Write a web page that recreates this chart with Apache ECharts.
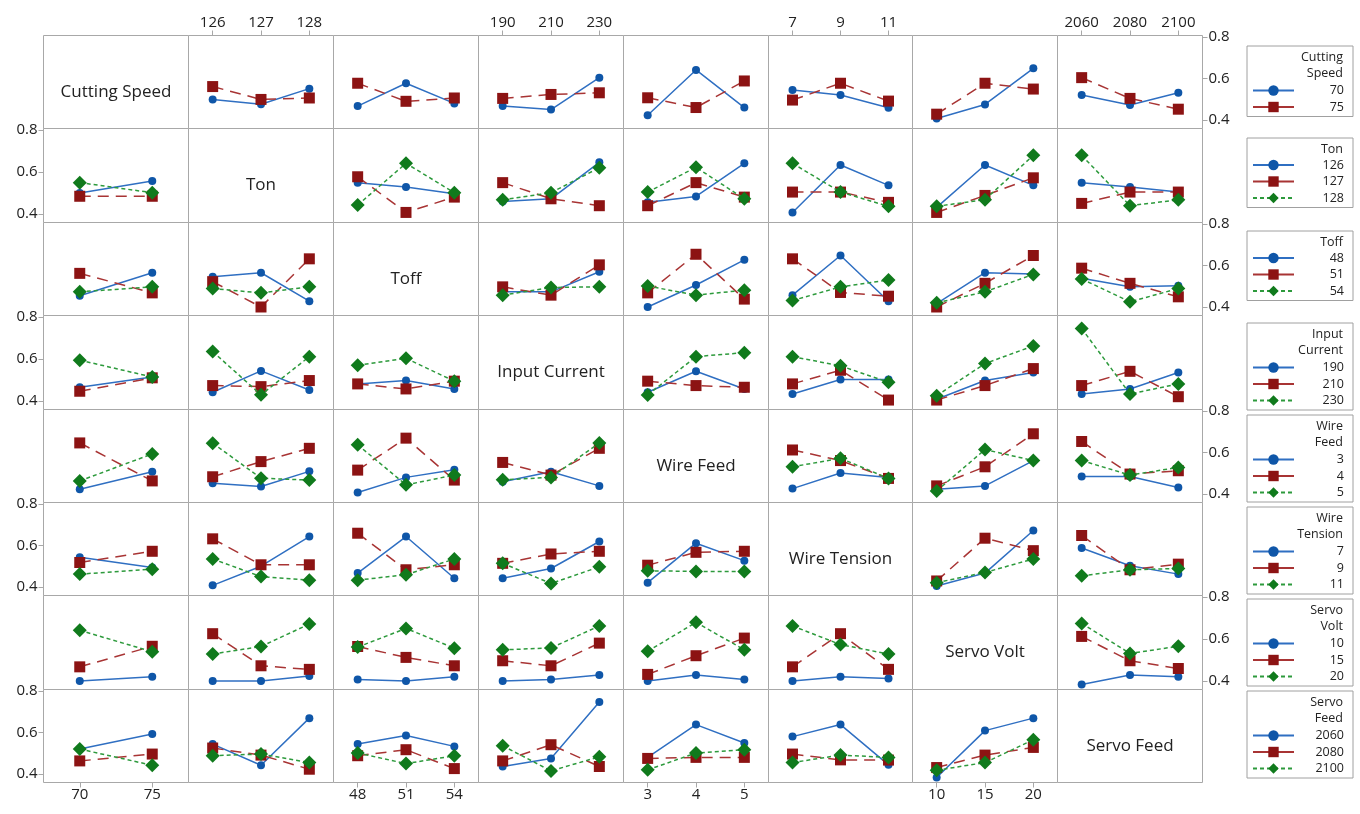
<!DOCTYPE html>
<html>
<head>
<meta charset="utf-8">
<script src="https://cdn.jsdelivr.net/npm/echarts@6/dist/echarts.min.js"></script>
<style>
  html, body { margin: 0; background: #fff; }
  #chart { width: 1360px; height: 814px; }
</style>
</head>
<body>
<div id="chart"></div>
<script>
  // factor names and their levels
  const factors = ['Cutting Speed', 'Ton', 'Toff', 'Input Current', 'Wire Feed', 'Wire Tension', 'Servo Volt', 'Servo Feed']
  const legendTitles = ['Cutting\nSpeed', 'Ton', 'Toff', 'Input\nCurrent', 'Wire\nFeed', 'Wire\nTension', 'Servo\nVolt', 'Servo\nFeed']
  const levels = [
    [70, 75],
    [126, 127, 128],
    [48, 51, 54],
    [190, 210, 230],
    [3, 4, 5],
    [7, 9, 11],
    [10, 15, 20],
    [2060, 2080, 2100]
  ]
  const yTicks = [0.4, 0.6, 0.8]

  // means: one entry per column factor, one line per level of the row factor
  const cuttingSpeedMeans = [
    null,
    [[0.499, 0.476, 0.551], [0.561, 0.499, 0.506]],
    [[0.467, 0.577, 0.480], [0.577, 0.490, 0.506]],
    [[0.467, 0.450, 0.604], [0.504, 0.523, 0.531]],
    [[0.423, 0.641, 0.460], [0.507, 0.460, 0.588]],
    [[0.544, 0.520, 0.459], [0.496, 0.577, 0.491]],
    [[0.407, 0.475, 0.649], [0.428, 0.577, 0.549]],
    [[0.520, 0.472, 0.531], [0.604, 0.504, 0.452]]
  ]
  const tonMeans = [
    [[0.500, 0.557], [0.484, 0.484], [0.549, 0.501]],
    null,
    [[0.548, 0.528, 0.496], [0.577, 0.407, 0.480], [0.442, 0.641, 0.501]],
    [[0.459, 0.472, 0.646], [0.549, 0.472, 0.439], [0.467, 0.501, 0.620]],
    [[0.455, 0.483, 0.641], [0.439, 0.549, 0.480], [0.504, 0.622, 0.472]],
    [[0.407, 0.633, 0.536], [0.504, 0.504, 0.455], [0.641, 0.504, 0.436]],
    [[0.431, 0.633, 0.536], [0.407, 0.488, 0.572], [0.436, 0.468, 0.679]],
    [[0.549, 0.528, 0.504], [0.450, 0.504, 0.504], [0.679, 0.439, 0.467]]
  ]
  const toffMeans = [
    [[0.454, 0.565], [0.562, 0.468], [0.473, 0.497]],
    [[0.546, 0.565, 0.428], [0.522, 0.400, 0.632], [0.489, 0.468, 0.497]],
    null,
    [[0.473, 0.473, 0.570], [0.497, 0.457, 0.603], [0.457, 0.494, 0.497]],
    [[0.400, 0.506, 0.627], [0.468, 0.654, 0.438], [0.501, 0.457, 0.481]],
    [[0.457, 0.648, 0.428], [0.632, 0.470, 0.452], [0.431, 0.497, 0.530]],
    [[0.416, 0.565, 0.559], [0.400, 0.514, 0.648], [0.420, 0.473, 0.557]],
    [[0.538, 0.497, 0.502], [0.587, 0.514, 0.449], [0.535, 0.425, 0.489]]
  ]
  const inputCurrentMeans = [
    [[0.465, 0.514], [0.446, 0.510], [0.594, 0.514]],
    [[0.441, 0.543, 0.452], [0.473, 0.468, 0.497], [0.635, 0.429, 0.611]],
    [[0.481, 0.497, 0.457], [0.481, 0.457, 0.494], [0.570, 0.603, 0.494]],
    null,
    [[0.441, 0.541, 0.457], [0.494, 0.473, 0.465], [0.428, 0.611, 0.630]],
    [[0.433, 0.502, 0.502], [0.481, 0.546, 0.404], [0.611, 0.567, 0.489]],
    [[0.408, 0.497, 0.535], [0.404, 0.473, 0.554], [0.425, 0.578, 0.662]],
    [[0.433, 0.457, 0.535], [0.473, 0.541, 0.420], [0.745, 0.433, 0.481]]
  ]
  const wireFeedMeans = [
    [[0.423, 0.507], [0.646, 0.463], [0.463, 0.593]],
    [[0.452, 0.436, 0.509], [0.483, 0.556, 0.620], [0.645, 0.476, 0.467]],
    [[0.407, 0.480, 0.517], [0.515, 0.669, 0.467], [0.637, 0.444, 0.491]],
    [[0.459, 0.507, 0.439], [0.552, 0.491, 0.620], [0.468, 0.480, 0.646]],
    null,
    [[0.426, 0.501, 0.480], [0.612, 0.561, 0.475], [0.531, 0.572, 0.475]],
    [[0.423, 0.439, 0.561], [0.439, 0.531, 0.690], [0.415, 0.614, 0.561]],
    [[0.484, 0.484, 0.431], [0.653, 0.496, 0.512], [0.561, 0.491, 0.528]]
  ]
  const wireTensionMeans = [
    [[0.543, 0.494], [0.518, 0.572], [0.462, 0.486]],
    [[0.408, 0.500, 0.643], [0.632, 0.507, 0.507], [0.535, 0.450, 0.433]],
    [[0.467, 0.643, 0.442], [0.659, 0.483, 0.507], [0.433, 0.459, 0.535]],
    [[0.442, 0.489, 0.619], [0.514, 0.559, 0.572], [0.514, 0.417, 0.497]],
    [[0.421, 0.611, 0.527], [0.505, 0.567, 0.572], [0.478, 0.475, 0.475]],
    null,
    [[0.405, 0.467, 0.672], [0.429, 0.635, 0.575], [0.421, 0.470, 0.535]],
    [[0.588, 0.502, 0.462], [0.648, 0.483, 0.510], [0.454, 0.483, 0.489]]
  ]
  const servoVoltMeans = [
    [[0.399, 0.420], [0.467, 0.565], [0.641, 0.539]],
    [[0.399, 0.399, 0.423], [0.625, 0.472, 0.455], [0.528, 0.564, 0.671]],
    [[0.407, 0.399, 0.420], [0.564, 0.512, 0.472], [0.561, 0.650, 0.556]],
    [[0.399, 0.407, 0.428], [0.496, 0.472, 0.580], [0.548, 0.557, 0.662]],
    [[0.399, 0.428, 0.407], [0.431, 0.520, 0.604], [0.541, 0.679, 0.548]],
    [[0.399, 0.420, 0.412], [0.467, 0.625, 0.455], [0.662, 0.573, 0.528]],
    null,
    [[0.383, 0.428, 0.420], [0.612, 0.496, 0.459], [0.674, 0.531, 0.565]]
  ]
  const servoFeedMeans = [
    [[0.520, 0.593], [0.463, 0.496], [0.520, 0.442]],
    [[0.544, 0.442, 0.669], [0.525, 0.491, 0.423], [0.488, 0.496, 0.455]],
    [[0.544, 0.585, 0.533], [0.488, 0.517, 0.426], [0.501, 0.450, 0.488]],
    [[0.436, 0.475, 0.747], [0.463, 0.541, 0.436], [0.536, 0.415, 0.483]],
    [[0.480, 0.638, 0.549], [0.475, 0.480, 0.480], [0.420, 0.501, 0.517]],
    [[0.580, 0.638, 0.444], [0.496, 0.468, 0.467], [0.455, 0.491, 0.480]],
    [[0.383, 0.609, 0.669], [0.431, 0.491, 0.528], [0.418, 0.455, 0.565]],
    null
  ]
  const means = [cuttingSpeedMeans, tonMeans, toffMeans, inputCurrentMeans,
    wireFeedMeans, wireTensionMeans, servoVoltMeans, servoFeedMeans]

  const font = "'Open Sans', sans-serif"
  const textColor = '#222'
  const frameColor = '#a8a8a8'
  const lineStyles = [
    { marker: '#0f56a8', line: '#2f6fc2', type: 'solid', legendType: 'solid', symbol: 'circle', size: 8 },
    { marker: '#8c1313', line: '#a83434', type: [11, 7], legendType: 'solid', symbol: 'rect', size: 11 },
    { marker: '#107a1c', line: '#2d9a3c', type: [4, 3], legendType: [4, 3], symbol: 'diamond', size: 14 }
  ]

  const n = factors.length
  const x0 = 43, y0 = 35, cellW = 144.9, cellH = 93.4
  const yMin = 0.359, yMax = 0.807
  const legendTops = [46, 138, 231, 323, 415, 507, 599, 691]

  let grids = [], xAxes = [], yAxes = [], series = [], graphics = [], legends = []

  for (let r = 0; r < n; r++) {
    for (let c = 0; c < n; c++) {
      let idx = r * n + c
      let left = Math.round(x0 + c * cellW) + 0.5
      let right = Math.round(x0 + (c + 1) * cellW) + 0.5
      let top = Math.round(y0 + r * cellH) + 0.5
      let bottom = Math.round(y0 + (r + 1) * cellH) + 0.5
      grids.push({
        left: left, top: top, width: right - left, height: bottom - top,
        show: true, borderColor: frameColor, borderWidth: 1, backgroundColor: '#fff'
      })

      let lv = levels[c]
      let step = lv[1] - lv[0]
      let showTop = r === 0 && c % 2 === 1
      let showBottom = r === n - 1 && c % 2 === 0
      let showX = showTop || showBottom
      xAxes.push({
        gridIndex: idx, type: 'value',
        min: lv[0] - step / 2, max: lv[lv.length - 1] + step / 2,
        position: showTop ? 'top' : 'bottom',
        axisLine: { show: false },
        splitLine: { show: false },
        axisTick: { show: showX, customValues: lv, length: 5, lineStyle: { color: frameColor } },
        axisLabel: {
          show: showX, customValues: lv, margin: 5,
          color: textColor, fontSize: 15, fontFamily: font,
          formatter: v => String(v)
        }
      })

      let showRight = c === n - 1 && r % 2 === 0
      let showLeft = c === 0 && r % 2 === 1
      let showY = showRight || showLeft
      yAxes.push({
        gridIndex: idx, type: 'value', min: yMin, max: yMax,
        position: showRight ? 'right' : 'left',
        axisLine: { show: false },
        splitLine: { show: false },
        axisTick: { show: showY, customValues: yTicks, length: 5, lineStyle: { color: frameColor } },
        axisLabel: {
          show: showY, customValues: yTicks, margin: 6,
          color: textColor, fontSize: 15, fontFamily: font,
          formatter: v => v.toFixed(1)
        }
      })

      if (r === c) {
        graphics.push({
          type: 'text',
          x: (left + right) / 2, y: (top + bottom) / 2 + 10,
          style: {
            text: factors[r], align: 'center', verticalAlign: 'middle',
            fill: textColor, font: '17px ' + font
          }
        })
        continue
      }

      levels[r].forEach((level, k) => {
        let s = lineStyles[k]
        series.push({
          type: 'line',
          name: String(level),
          xAxisIndex: idx,
          yAxisIndex: idx,
          data: lv.map((x, i) => [x, means[r][c][k][i]]),
          symbol: s.symbol,
          symbolSize: s.size,
          itemStyle: { color: s.marker },
          lineStyle: { color: s.line, width: 1.5, type: s.type },
          z: 2 + k,
          animation: false
        })
      })
    }

    // legend box for this row factor
    let twoLines = legendTitles[r].indexOf('\n') >= 0
    legends.push({
      orient: 'vertical',
      left: 1247,
      top: legendTops[r],
      data: levels[r].map((level, k) => ({
        name: String(level),
        lineStyle: { type: lineStyles[k].legendType }
      })),
      selectedMode: false,
      padding: [twoLines ? 38 : 20.5, 9, 3, 5],
      itemWidth: 41,
      itemHeight: 13,
      itemGap: 3.5,
      borderColor: '#a0a0a0',
      borderWidth: 1,
      formatter: '{r|{name}}',
      textStyle: {
        width: 45, fontSize: 12.5, lineHeight: 13, color: textColor, fontFamily: font,
        rich: { r: { align: 'right', fontSize: 12.5, lineHeight: 13, fontFamily: font, color: textColor } }
      }
    })
    graphics.push({
      type: 'text',
      x: 1343, y: legendTops[r] + 4,
      style: {
        text: legendTitles[r], align: 'right', verticalAlign: 'top',
        fill: textColor, font: '12.5px ' + font, lineHeight: 15.5
      }
    })
  }

  let chart = echarts.init(document.getElementById('chart'))
  chart.setOption({
    backgroundColor: '#fff',
    animation: false,
    grid: grids,
    xAxis: xAxes,
    yAxis: yAxes,
    legend: legends,
    graphic: graphics,
    series: series
  })
</script>
</body>
</html>
